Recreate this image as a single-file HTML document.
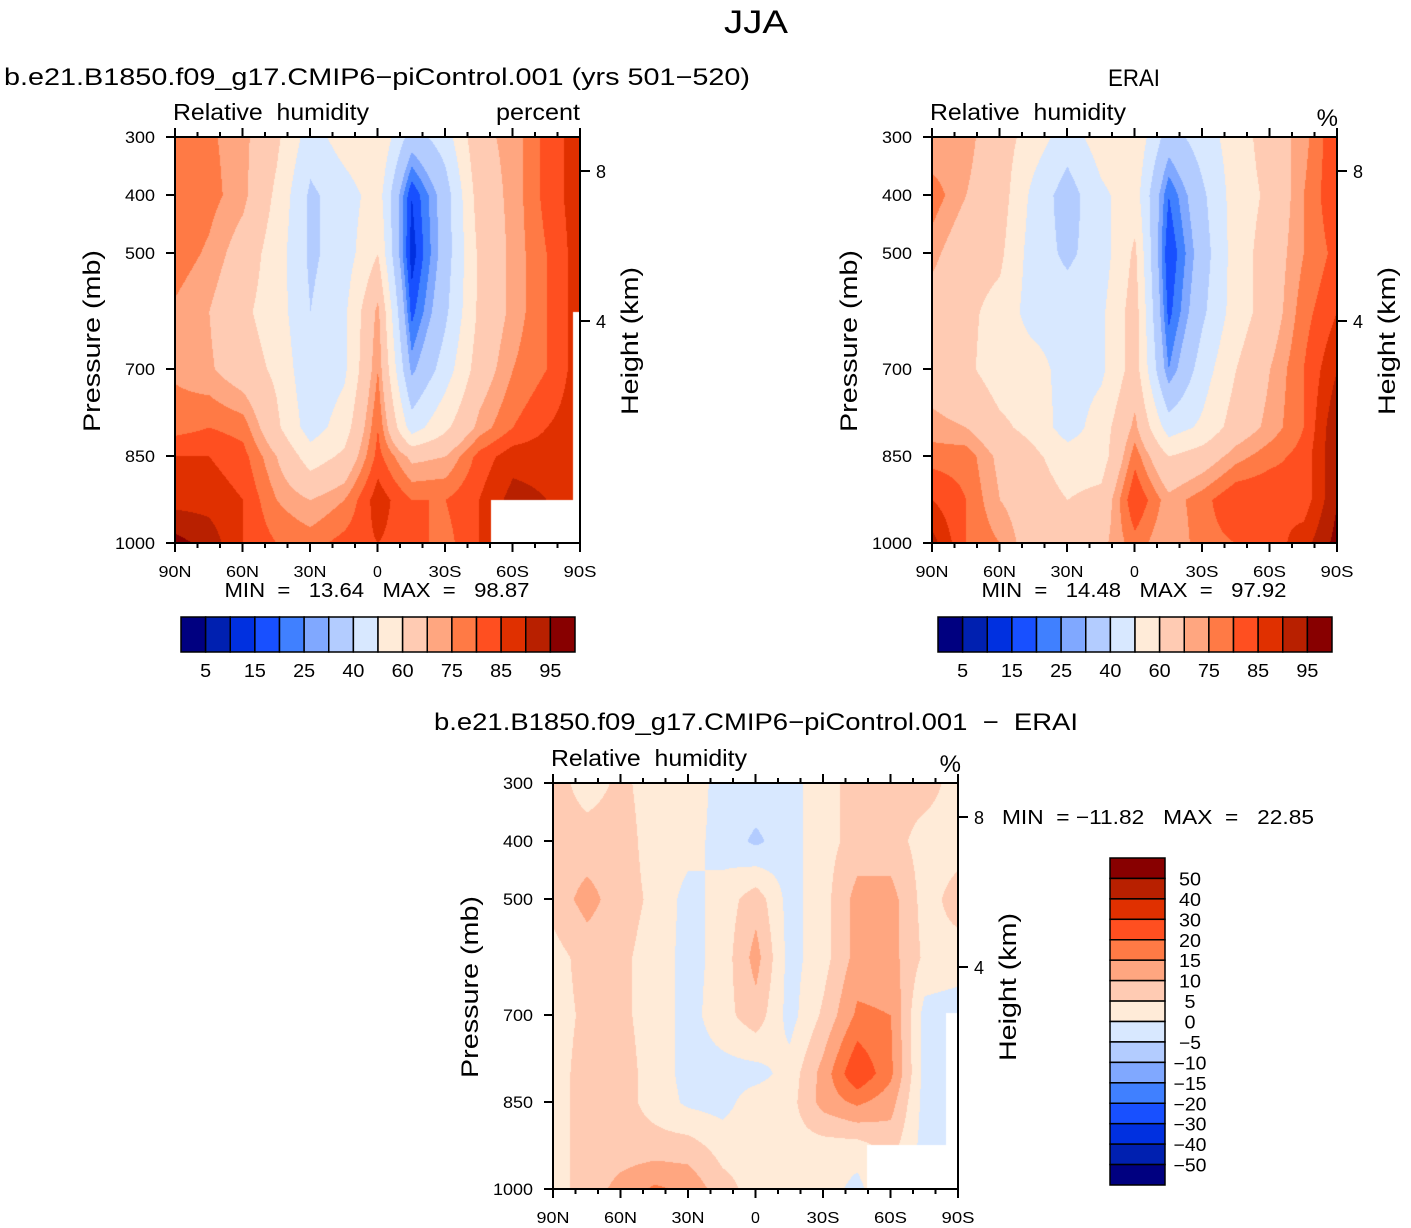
<!DOCTYPE html>
<html><head><meta charset="utf-8">
<style>
body{margin:0;background:#fff;width:1411px;height:1228px;position:relative;overflow:hidden;font-family:"Liberation Sans",sans-serif}
canvas{position:absolute}
svg{position:absolute;left:0;top:0}
svg text{font-family:"Liberation Sans",sans-serif;fill:#000;white-space:pre}
</style></head><body>
<canvas id="c1" width="405" height="406" style="left:175px;top:137px"></canvas>
<canvas id="c2" width="405" height="406" style="left:932px;top:137px"></canvas>
<canvas id="c3" width="405" height="406" style="left:553px;top:783px"></canvas>
<svg id="ov" width="1411" height="1228"></svg>
<script>
const lats=["90N","75N","60N","45N","30N","15N","0","15S","30S","45S","60S","75S","90S"];
const plevs=[300,400,500,600,700,800,850,925,1000];
const xTickLabels=["90N","60N","30N","0","30S","60S","90S"];
const yTickLabels=[300,400,500,700,850,1000];
const rhLevels=[5,10,15,20,25,30,40,50,60,70,75,80,85,90,95];
const rhBarLabels=["5","15","25","40","60","75","85","95"];
const diffLevels=[-50,-40,-30,-20,-15,-10,-5,0,5,10,15,20,30,40,50];
const diffBarLabels=["50","40","30","20","15","10","5","0","\u22125","\u221210","\u221215","\u221220","\u221230","\u221240","\u221250"];
const colors=["#000080","#0020b0","#0030e0","#1850ff","#4080ff","#80a8ff","#b3ccff","#d8e8ff","#ffebd8","#ffcbb3","#ffa680","#ff7a45","#ff4f20","#e03000","#b82000","#880000"];
// rows = latitude (90N..90S), cols = pressure levels
const modelRH=[
[78,80,78,74,74,78,85,88,97],
[76,77,74,70,71,80,85,88,93],
[72,72,66,62,65,78,82,85,85],
[62,58,55,55,58,62,70,75,80],
[45,38,38,40,42,45,55,70,78],
[55,45,45,48,48,55,62,75,82],
[60,55,60,72,75,80,82,88,85],
[35,15,12,18,28,45,68,80,82],
[45,35,35,38,45,58,70,80,78],
[68,65,62,62,65,72,82,85,85],
[72,72,72,72,75,80,88,92,85],
[82,82,80,80,80,85,88,90,85],
[88,88,88,88,88,88,85,85,85]];
const eraiRH=[
[70,78,72,66,66,72,78,85,92],
[72,70,64,62,62,70,78,80,80],
[65,65,62,57,55,62,68,70,75],
[55,47,45,45,55,57,62,65,65],
[45,35,38,45,45,45,55,60,65],
[55,48,45,48,48,55,55,63,68],
[58,55,62,65,65,72,78,85,78],
[35,20,15,18,25,45,60,72,70],
[45,38,35,38,45,52,65,78,78],
[55,55,55,55,60,65,73,85,80],
[65,62,65,65,70,72,78,85,82],
[73,75,75,78,80,80,82,82,88],
[85,85,82,85,90,95,95,95,97]];
const diffRH=[
[7,7,7,3,3,3,3,3,3],
[3,7,12,7,6,7,7,7,7],
[6,7,7,6,6,7,7,7,12],
[3,3,4,3,3,3,3,7,16],
[3,2,-2,-2,-2,-2,-1,7,14],
[-2,-2,2,2,3,-2,-2,3,7],
[-2,-6,8,12,8,-2,3,3,3],
[-2,-2,-2,-2,-2,2,3,3,3],
[3,3,3,3,6,12,12,3,3],
[7,7,12,12,16,25,16,3,-2],
[7,7,12,12,15,16,12,7,7],
[7,3,3,4,-2,-2,-2,-2,-2],
[3,3,7,3,-3,-6,-2,-2,-2]];

function field(grid,x,y){
  const fx=x/405*12; let i=Math.min(11,Math.floor(fx)); const tx=fx-i;
  const p=300+y/406*700; let j=0; while(j<7&&p>plevs[j+1])j++;
  const ty=(p-plevs[j])/(plevs[j+1]-plevs[j]);
  const a=grid[i][j],b=grid[i+1][j],c=grid[i][j+1],d=grid[i+1][j+1];
  return (a*(1-tx)+b*tx)*(1-ty)+(c*(1-tx)+d*tx)*ty;
}
function hex(h){return [parseInt(h.substr(1,2),16),parseInt(h.substr(3,2),16),parseInt(h.substr(5,2),16)];}
const rgb=colors.map(hex);
function draw(id,grid,levels,whites){
  const cv=document.getElementById(id),ctx=cv.getContext('2d');
  const img=ctx.createImageData(405,406);
  for(let y=0;y<406;y++)for(let x=0;x<405;x++){
    const v=field(grid,x,y);let k=0;while(k<levels.length&&v>=levels[k])k++;
    const c=rgb[k],o=(y*405+x)*4;img.data[o]=c[0];img.data[o+1]=c[1];img.data[o+2]=c[2];img.data[o+3]=255;}
  ctx.putImageData(img,0,0);
  ctx.fillStyle='#fff';whites.forEach(w=>ctx.fillRect(w[0],w[1],w[2],w[3]));
}
draw('c1',modelRH,rhLevels,[[316,363,89,43],[398,175,7,231]]);
draw('c2',eraiRH,rhLevels,[]);
draw('c3',diffRH,diffLevels,[[314,362,91,44],[393,230,12,176]]);

const NS='http://www.w3.org/2000/svg',ov=document.getElementById('ov');
function el(t,a,txt){const e=document.createElementNS(NS,t);for(const k in a)e.setAttribute(k,a[k]);if(txt!==undefined)e.textContent=txt;ov.appendChild(e);return e;}
function T(x,y,s,txt,anchor,name,extra,len){const a=Object.assign({x:x,y:y,'font-size':s,'text-anchor':anchor||'start'},extra||{});
if(len){a.textLength=len;a.lengthAdjust='spacingAndGlyphs';}
const e=el('text',a,txt);

return e;}
const xs=lat=>405*lat/180;
const ys=p=>(p-300)/700*406;
function axes(X,Y,pre){
  const r=el('rect',{x:X,y:Y,width:405,height:406,fill:'none',stroke:'#000','stroke-width':2});
  
  
  for(let d=0;d<=180;d+=10){const maj=d%30===0;const x=X+xs(d),L=maj?9:5;
    el('line',{x1:x,y1:Y+406,x2:x,y2:Y+406+L,stroke:'#000','stroke-width':2});
    el('line',{x1:x,y1:Y,x2:x,y2:Y-L,stroke:'#000','stroke-width':2});}
  xTickLabels.forEach((t,i)=>T(X+xs(i*30),Y+440,16,t,'middle',pre+'-x-tick-label',{},t.length>1?(t.length*11):0));
  yTickLabels.forEach(p=>{const y=Y+ys(p);el('line',{x1:X,y1:y,x2:X-9,y2:y,stroke:'#000','stroke-width':2});
    const s=String(p);T(X-20,y+6,17,s,'end',pre+'-y-tick-label',{},s.length*10);});
  [[8,34],[4,184]].forEach(h=>{el('line',{x1:X+405,y1:Y+h[1],x2:X+415,y2:Y+h[1],stroke:'#000','stroke-width':2});
    T(X+421,Y+h[1]+7,18,String(h[0]),'start',pre+'-height-tick-label');});
  T(X-75,Y+204,24,'Pressure (mb)','middle',pre+'-y-axis-title',{transform:`rotate(-90 ${X-75} ${Y+204})`},182);
  T(X+463,Y+204,24,'Height (km)','middle',pre+'-right-axis-title',{transform:`rotate(-90 ${X+463} ${Y+204})`},148);
}
axes(175,137,'model');axes(932,137,'erai');axes(553,783,'diff');
T(756,33,32,'JJA','middle','main-title',{},64);
T(4,85,24,'b.e21.B1850.f09_g17.CMIP6\u2212piControl.001 (yrs 501\u2212520)','start','model-title',{},746);
T(1134,86,24,'ERAI','middle','erai-title',{},52);
T(756,730,24,'b.e21.B1850.f09_g17.CMIP6\u2212piControl.001  \u2212  ERAI','middle','diff-title',{},644);
T(173,120,23,'Relative  humidity','start','model-variable-label',{},196);
T(580,120,23,'percent','end','model-units-label',{},84);
T(930,120,23,'Relative  humidity','start','erai-variable-label',{},196);
T(1338,126,24,'%','end','erai-units-label');
T(551,766,23,'Relative  humidity','start','diff-variable-label',{},196);
T(961,772,24,'%','end','diff-units-label');
T(377,597,20,'MIN  =   13.64   MAX  =   98.87','middle','model-min-max',{},305);
T(1134,597,20,'MIN  =   14.48   MAX  =   97.92','middle','erai-min-max',{},305);
T(1002,824,20,'MIN  = \u221211.82   MAX  =   22.85','start','diff-min-max',{},312);
function hbar(X,pre){const w=394/16;
  colors.forEach((c,i)=>{const r=el('rect',{x:X+i*w,y:617,width:w,height:35,fill:c,stroke:'#000','stroke-width':1.5});
  
  });
  rhBarLabels.forEach((t,i)=>T(X+(1+2*i)*w,677,18,t,'middle',pre+'-colorbar-label',{},t.length*11));}
hbar(181,'model');hbar(938,'erai');
const bh=327/16;
colors.slice().reverse().forEach((c,i)=>{const r=el('rect',{x:1110,y:858+i*bh,width:55,height:bh,fill:c,stroke:'#000','stroke-width':1.5});

});
diffBarLabels.forEach((t,i)=>T(1190,858+(i+1)*bh+7,18,t,'middle','diff-colorbar-label',{},t.length*11));
</script>
</body></html>
